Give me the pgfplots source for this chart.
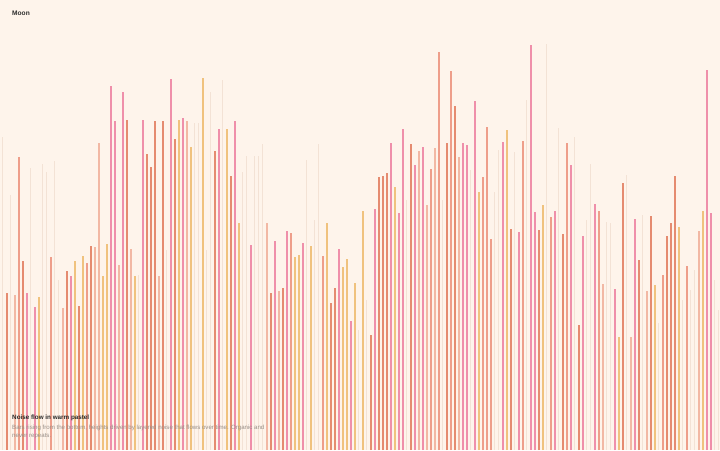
\documentclass[border=0pt]{standalone}
\usepackage{pgfplots}
\pgfplotsset{compat=1.18}
\usepackage{fontspec}
\setmainfont{Liberation Sans}

\definecolor{bg}{HTML}{FEF4EB}
\definecolor{cpink}{HTML}{EF8FAA}
\definecolor{ccoral}{HTML}{E58B70}
\definecolor{csalmon}{HTML}{EE9E8A}
\definecolor{clight}{HTML}{F2B8A4}
\definecolor{cyellow}{HTML}{F0C27E}
\definecolor{cfaint}{HTML}{F3E2D5}
\definecolor{ctitle}{HTML}{2B2B2B}
\definecolor{csub}{HTML}{988F88}

\begin{document}
\begin{tikzpicture}
\begin{axis}[
    width=720pt, height=450pt,
    scale only axis,
    xmin=-0.675, xmax=179.325,
    ymin=0, ymax=450,
    axis lines=none,
    xtick=\empty, ytick=\empty,
    axis background/.style={fill=bg},
    clip=false,
]
% faint bars
\addplot[ycomb, line width=1.2pt, cfaint] coordinates {
(0,313) (2,255) (7,282) (10,286) (11,278) (13,289) (14,170) (34,175) (41,200)
(48,327) (49,327) (51,200) (52,358) (55,370) (60,278) (61,294) (63,294) (64,294)
(65,306) (76,290) (78,230) (79,306) (89,120) (91,150) (101,250) (110,250) (117,280)
(123,258) (124,300) (128,298) (131,350) (136,406) (139,322) (143,313) (146,230)
(147,286) (151,228) (152,227) (156,275) (160,235) (164,127) (170,150) (172,160)
(173,180) (178,170) (179,140)};
% coral
\addplot[ycomb, line width=1.8pt, ccoral] coordinates {
(1,157) (5,189) (16,179) (19,144) (22,204) (31,330) (36,296) (37,283) (38,329)
(40,329) (43,311) (53,299) (57,274) (67,157) (70,162) (82,147) (83,162) (92,115)
(94,273) (95,274) (96,277) (102,306) (111,307) (113,344) (127,221) (134,220)
(140,216) (144,125) (155,267) (159,190) (162,234) (166,214) (167,227) (168,274)};
% pink
\addplot[ycomb, line width=1.8pt, cpink] coordinates {
(6,157) (8,143) (17,174) (27,364) (28,329) (30,358) (35,330) (42,371) (45,332)
(54,321) (58,329) (62,205) (68,209) (71,219) (75,207) (84,201) (87,129) (93,241)
(97,307) (99,237) (100,321) (103,285) (105,303) (115,307) (116,305) (118,349)
(125,308) (129,218) (132,405) (133,238) (138,239) (142,285) (145,214) (148,246)
(153,161) (158,231) (176,380) (177,237)};
% salmon
\addplot[ycomb, line width=1.8pt, csalmon] coordinates {
(4,293) (12,193) (21,187) (72,217) (80,194) (107,281) (109,398) (112,379)
(120,273) (121,323) (122,211) (130,309) (137,233) (141,307) (149,239) (165,175)
(171,184)};
% light salmon
\addplot[ycomb, line width=1.8pt, clight] coordinates {
(3,155) (15,142) (23,203) (24,307) (29,185) (32,201) (39,174) (46,329) (66,227)
(69,159) (104,299) (106,245) (108,302) (114,293) (150,166) (157,113) (161,159)
(174,219)};
% yellow
\addplot[ycomb, line width=1.8pt, cyellow] coordinates {
(9,153) (18,189) (20,194) (25,174) (26,206) (33,174) (44,330) (47,303) (50,372)
(56,321) (59,227) (73,193) (74,195) (77,204) (81,227) (85,183) (86,191) (88,167)
(90,239) (98,263) (119,258) (126,320) (135,245) (154,113) (163,165) (169,223)
(175,239)};

\node[anchor=west, inner sep=0pt, font=\fontsize{6.6}{8}\selectfont\bfseries, text=ctitle]
  at (rel axis cs:0.0167,0.9711) {Moon};
\node[anchor=west, inner sep=0pt, font=\fontsize{6.3}{8}\selectfont\bfseries, text=ctitle]
  at (rel axis cs:0.0167,0.0711) {Noise flow in warm pastel};
\node[anchor=west, inner sep=0pt, font=\fontsize{6.1}{8}\selectfont, text=csub]
  at (rel axis cs:0.0167,0.0489) {Bars rising from the bottom, heights driven by layered noise that flows over time. Organic and};
\node[anchor=west, inner sep=0pt, font=\fontsize{6.1}{8}\selectfont, text=csub]
  at (rel axis cs:0.0167,0.0311) {never repeats.};
\end{axis}
\end{tikzpicture}
\end{document}
